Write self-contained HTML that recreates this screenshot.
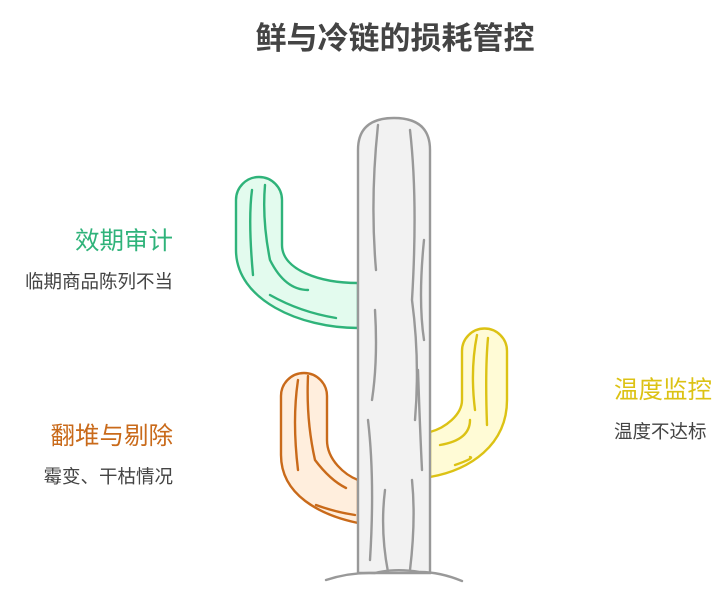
<!DOCTYPE html>
<html><head><meta charset="utf-8"><style>
body{margin:0;width:728px;height:592px;background:#fff;position:relative;overflow:hidden;font-family:"Liberation Sans","Noto Sans CJK SC",sans-serif}
.t{position:absolute;white-space:nowrap;line-height:1}
</style></head><body>
<div class="t" style="left:0;width:790px;text-align:center;top:23px;font-size:31px;font-weight:bold;color:#444">鲜与冷链的损耗管控</div>
<div class="t" style="right:555px;top:230px;font-size:24.5px;color:#2fb37a">效期审计</div>
<div class="t" style="right:555px;top:273px;font-size:18.5px;color:#444">临期商品陈列不当</div>
<div class="t" style="right:555px;top:425px;font-size:24.5px;color:#c96a1a">翻堆与剔除</div>
<div class="t" style="right:555px;top:468px;font-size:18.5px;color:#444">霉变、干枯情况</div>
<div class="t" style="left:614px;top:379px;font-size:24.5px;color:#dcc214">温度监控</div>
<div class="t" style="left:614px;top:423px;font-size:18.5px;color:#444">温度不达标</div>
<svg width="728" height="592" style="position:absolute;left:0;top:0" fill="none" stroke-linecap="round" stroke-width="2.4">
<path d="M358,328 C300,328 236,300 236,250 L236,200 A23,23 0 0 1 282,200 L282,245 C282,270 320,283 358,283 Z" fill="#e3fbee" stroke="#2fb37a"/>
<path d="M252,190 Q248,220 253,275 M265,185 Q262,220 270,260 Q285,290 308,290 M270,295 Q300,312 336,318" stroke="#2fb37a"/>
<path d="M358,523 C320,515 281,495 281,455 L281,396 A23,23 0 0 1 327,396 L327,440 C327,460 345,475 358,480 Z" fill="#ffeedd" stroke="#c96a1a"/>
<path d="M298,380 Q292,420 298,470 M308,376 Q306,420 315,460 Q330,480 346,488 M316,505 Q335,512 355,515" stroke="#c96a1a"/>
<path d="M430,477 C470,470 507,445 507,400 L507,351 A22.5,22.5 0 0 0 462,351 L462,400 C462,415 445,428 430,432 Z" fill="#fffbd6" stroke="#dcc214"/>
<path d="M477,335 Q470,370 475,410 M488,338 Q485,370 487,425 M440,445 Q470,440 470,420 M455,465 Q475,458 470,457" stroke="#dcc214"/>
<path d="M358,573 L358,150 Q358,118 394,118 Q430,118 430,150 L430,573 Z" fill="#f2f2f2" stroke="#999"/>
<path d="M378,125 Q370,200 376,270 M375,310 Q378,360 372,400 M368,420 Q375,480 370,560 M410,130 Q418,200 412,300 Q420,360 415,420 M418,370 Q420,430 422,470 M412,480 Q416,520 410,570 M424,240 Q418,300 424,340 M385,490 Q380,530 388,572" stroke="#999"/>
<path d="M326,580 Q350,572 375,573 Q395,568 420,572 Q440,572 462,581" stroke="#999"/>
</svg>
</body></html>
